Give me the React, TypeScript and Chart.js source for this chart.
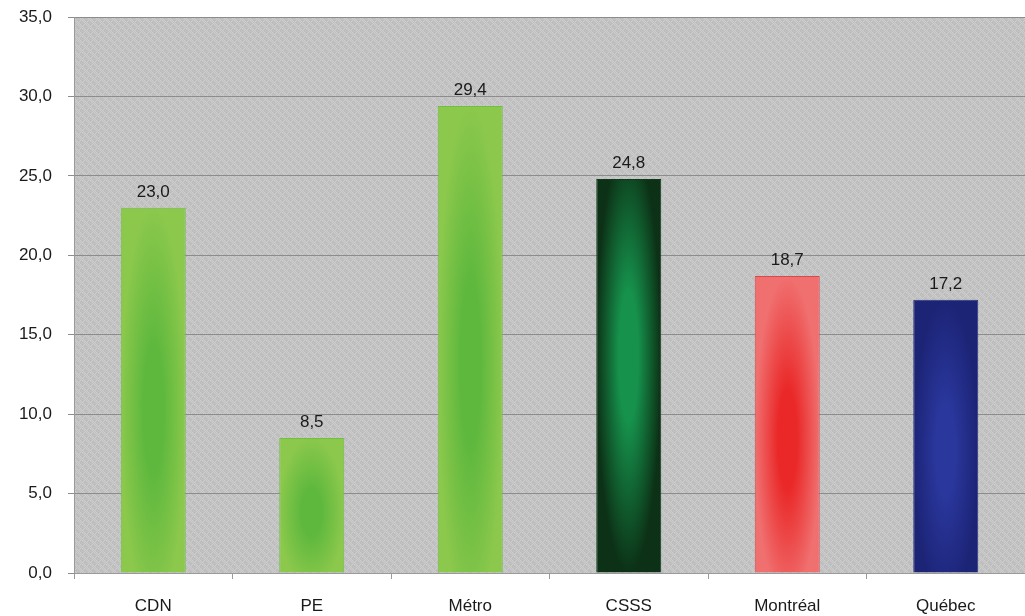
import React, { useEffect, useRef } from "react";
import { Chart, registerables } from "chart.js";

Chart.register(...registerables);

const categories = ["CDN", "PE", "Métro", "CSSS", "Montréal", "Québec"];
const values = [23.0, 8.5, 29.4, 24.8, 18.7, 17.2];
const yTicks = [0, 5, 10, 15, 20, 25, 30, 35];

// edge color, center color, border color
const barPalette: [string, string, string][] = [
  ["#8bc84c", "#5db83d", "#6fbf44"],
  ["#8bc84c", "#5db83d", "#6fbf44"],
  ["#8bc84c", "#5db83d", "#6fbf44"],
  ["#0c3116", "#16924c", "#0e3a1a"],
  ["#f07070", "#ea2828", "#d84a4a"],
  ["#1c2476", "#2a379c", "#2a3080"],
];

const W = 1025;
const H = 616;
const FONT = "'Liberation Sans', Arial, Helvetica, sans-serif";

function fmt(v: number) {
  return v.toFixed(1).replace(".", ",");
}

function makeBgPattern(ctx: CanvasRenderingContext2D) {
  const c = document.createElement("canvas");
  c.width = 8;
  c.height = 8;
  const g = c.getContext("2d")!;
  g.fillStyle = "#c0c0c0";
  g.fillRect(0, 0, 8, 8);
  g.fillStyle = "#cdcdcd";
  for (let i = 0; i < 8; i++) {
    g.fillRect(i, i % 8, 1, 1);
    g.fillRect(i, (i + 2) % 8, 1, 1);
    g.fillRect((8 - i) % 8, (i + 4) % 8, 1, 1);
  }
  g.fillStyle = "#b9b9b9";
  for (let i = 0; i < 8; i += 2) {
    g.fillRect(i, (i + 6) % 8, 1, 1);
  }
  return ctx.createPattern(c, "repeat");
}

const patternCache: Record<string, CanvasPattern | string> = {};

function barFill(chart: any, idx: number) {
  const [edge, center] = barPalette[idx];
  const area = chart.chartArea;
  if (!area || !chart.scales.x || !chart.scales.y) return edge;
  const xs = chart.scales.x;
  const ys = chart.scales.y;
  const cx = xs.getPixelForValue(idx);
  const bw = (xs.width / categories.length) * 0.41;
  const left = Math.round(cx - bw / 2);
  const top = Math.round(ys.getPixelForValue(values[idx]));
  const bottom = Math.round(ys.getPixelForValue(0));
  const w = Math.max(2, Math.round(bw));
  const h = Math.max(2, bottom - top);
  const key = `${idx}-${left}-${top}-${w}-${h}`;
  if (patternCache[key]) return patternCache[key];
  const off = document.createElement("canvas");
  off.width = w;
  off.height = h;
  const g = off.getContext("2d")!;
  g.fillStyle = edge;
  g.fillRect(0, 0, w, h);
  g.save();
  const cyFrac = idx === 3 ? 0.45 : 0.55;
  g.translate(w / 2, h * cyFrac);
  const sy = Math.max(1, (h * 0.55) / (w / 2));
  g.scale(1, sy);
  const r = w / 2;
  const grad = g.createRadialGradient(0, 0, 0, 0, 0, r);
  grad.addColorStop(0, center);
  grad.addColorStop(0.3, center);
  grad.addColorStop(1, edge);
  g.fillStyle = grad;
  g.fillRect(-w, -2 * h, 2 * w, 4 * h);
  g.restore();
  const pat = chart.ctx.createPattern(off, "no-repeat") as CanvasPattern;
  pat.setTransform(new DOMMatrix().translate(left, top));
  patternCache[key] = pat;
  return pat;
}

const bgPlugin = {
  id: "plotBg",
  beforeDraw(chart: any) {
    const { ctx, chartArea } = chart;
    if (!chartArea) return;
    ctx.save();
    ctx.fillStyle = "#ffffff";
    ctx.fillRect(0, 0, chart.width, chart.height);
    ctx.fillStyle = makeBgPattern(ctx) || "#c3c3c3";
    ctx.fillRect(
      chartArea.left,
      chartArea.top,
      chartArea.right - chartArea.left,
      chartArea.bottom - chartArea.top
    );
    ctx.restore();
  },
};

const labelPlugin = {
  id: "valueLabels",
  afterDatasetsDraw(chart: any) {
    const { ctx } = chart;
    const meta = chart.getDatasetMeta(0);
    ctx.save();
    ctx.font = `17px ${FONT}`;
    ctx.fillStyle = "#1a1a1a";
    ctx.textAlign = "center";
    ctx.textBaseline = "bottom";
    meta.data.forEach((bar: any, i: number) => {
      ctx.fillText(fmt(values[i]), bar.x, bar.y - 7);
    });
    ctx.restore();
  },
};

export default function App() {
  const ref = useRef<HTMLCanvasElement>(null);

  useEffect(() => {
    document.body.style.margin = "0";
    const canvas = ref.current!;
    const chart = new Chart(canvas, {
      type: "bar",
      data: {
        labels: categories,
        datasets: [
          {
            data: values,
            backgroundColor: (c: any) => barFill(c.chart, c.dataIndex),
            borderColor: barPalette.map((p) => p[2]),
            borderWidth: 1,
            categoryPercentage: 1,
            barPercentage: 0.41,
          },
        ],
      },
      options: {
        responsive: false,
        animation: false,
        layout: { padding: { top: 17, right: 0, left: 0, bottom: 0 } },
        plugins: {
          legend: { display: false },
          tooltip: { enabled: false },
        },
        scales: {
          x: {
            grid: {
              display: true,
              drawOnChartArea: false,
              drawTicks: true,
              tickLength: 6,
              color: "#9a9a9a",
              offset: true,
            },
            border: { display: true, color: "#9a9a9a", width: 1 },
            ticks: {
              color: "#1a1a1a",
              font: { family: FONT, size: 17 },
              padding: 17,
              maxRotation: 0,
            },
            afterFit: (s: any) => {
              s.height = H - 573;
              s.paddingLeft = 0;
              s.paddingRight = 0;
            },
          },
          y: {
            min: 0,
            max: 35,
            afterBuildTicks: (s: any) => {
              s.ticks = yTicks.map((v) => ({ value: v }));
            },
            grid: {
              color: "#8c8c8c",
              tickLength: 6,
              lineWidth: 1,
            },
            border: { display: true, color: "#9a9a9a", width: 1 },
            ticks: {
              color: "#1a1a1a",
              font: { family: FONT, size: 17 },
              padding: 16,
              callback: (v: any) => fmt(Number(v)),
            },
            afterFit: (s: any) => {
              s.width = 74;
              s.paddingTop = 0;
              s.paddingBottom = 0;
            },
          },
        },
      },
      plugins: [bgPlugin, labelPlugin],
    });
    return () => chart.destroy();
  }, []);

  return (
    <div style={{ position: "absolute", left: 0, top: 0, width: W, height: H }}>
      <canvas ref={ref} width={W} height={H} style={{ width: W, height: H }} />
    </div>
  );
}
